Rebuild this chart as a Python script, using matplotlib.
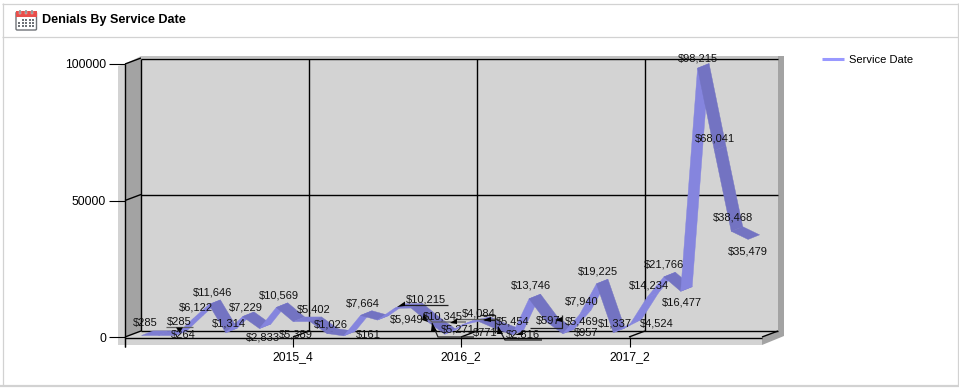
import matplotlib
matplotlib.use("Agg")
import matplotlib.pyplot as plt
from matplotlib.patches import Polygon, Rectangle, FancyBboxPatch
from matplotlib.lines import Line2D
from matplotlib.transforms import Affine2D

TITLE = "Denials By Service Date"
SERIES_NAME = "Service Date"
values = [285, 285, 264, 6122, 11646, 1314, 7229, 2833, 10569, 5389, 5402, 1026, 161,
          7664, 5949, 10215, 10345, 5271, 771, 4084, 5454, 2816, 597, 13746, 5469, 957,
          7940, 19225, 1337, 4524, 14234, 21766, 16477, 98215, 68041, 38468, 35479]
tick_index = [9, 19, 29]
tick_labels = ["2015_4", "2016_2", "2017_2"]
y_ticks = [0, 50000, 100000]

# label offsets from each point, in pixels (right, up)
label_offsets = [(4, 13), (21, 14), (9, 1), (4, 13), (4, 13), (4, 10), (4, 10), (4, -8), (3, 13),
                 (3, -12), (4.5, 13), (4, 10), (25, 2), (3, 13), (30, 1), (32, 10), (32, -8),
                 (30, -7), (41, 2), (18, 12), (35, 1), (28, -5), (36, 14), (2.5, 13.5), (36, 1),
                 (24, 1), (3, 14), (2, 13.5), (2, 10), (27, 1), (2, 13), (1, 13), (2, -10),
                 (1, 10), (1, 13), (2, 14), (0, -11)]

W, H = 959, 388
FONT = "Liberation Sans"
fig = plt.figure(figsize=(W / 100, H / 100), dpi=100, facecolor="white")
L, R, T, B = 125, 762, 64, 337
ax = fig.add_axes([L / W, 1 - B / H, (R - L) / W, (B - T) / H], facecolor="none")
X_STEP = 16.85
xmin = (L - 141) / X_STEP
ax.set_xlim(xmin, (R - 141) / X_STEP)
ax.set_ylim(0, 100000)
PY = 100000 / (B - T)          # data units per pixel, y

px = Affine2D().scale(1, -1).translate(0, H)   # reference-pixel coordinates


def poly(pts, fc, z=0.5, ec="none", lw=0):
    ax.add_patch(Polygon(pts, closed=True, fc=fc, ec=ec, lw=lw, transform=px, clip_on=False, zorder=z))


def line(xs, ys, c="black", lw=1.0, z=1.0):
    ax.add_line(Line2D(xs, ys, color=c, lw=lw, transform=px, clip_on=False, zorder=z,
                       solid_capstyle="butt", solid_joinstyle="miter"))


# ---- panel frame
BORDER = "#D2D2D2"
line([2.5, 2.5], [3, 385], BORDER, 0.9)
line([957.5, 957.5], [3, 385], BORDER, 0.9)
line([2, 958], [3.5, 3.5], BORDER, 0.9)
line([2, 958], [36.5, 36.5], BORDER, 0.9)
line([0, 959], [385.5, 385.5], BORDER, 1.6)

# ---- calendar icon
ax.add_patch(FancyBboxPatch((16, 12), 20.5, 18, boxstyle="round,pad=0,rounding_size=1.2", fc="white",
                            ec="#6E7277", lw=1.0, transform=px, clip_on=False, zorder=1))
ax.add_patch(Rectangle((15.5, 11), 21.5, 6, fc="#E8504C", ec="none", transform=px, clip_on=False, zorder=1.1))
for rx in (20, 26, 32):
    ax.add_patch(Rectangle((rx - 0.7, 9.5), 1.4, 4.5, fc="#8A8A8A", ec="white", lw=0.2, transform=px,
                           clip_on=False, zorder=1.2))
for ry in (20, 23, 26):
    for rx in (19, 22.5, 26, 29.5, 33):
        if ry == 20 and rx < 22:
            continue
        ax.add_patch(Rectangle((rx - 1, ry - 0.9), 2.2, 1.9, fc="#6E7277", ec="none", transform=px,
                               clip_on=False, zorder=1.2))
ax.text(42, 20.5, TITLE, transform=px, family=FONT, weight="bold", fontsize=9.1, va="center",
        ha="left", color="black", clip_on=False)

# ---- 3D box
WALL = "#D3D3D3"
DARK = "#A3A3A3"
poly([(118, 66), (125, 64), (125, 345), (118, 345)], WALL)
poly([(118, 337), (762, 337), (762, 345), (118, 345)], WALL)
poly([(125, 64), (141, 56), (783, 56), (783, 58), (141, 58)], "#C2C2C2", 0.52)
poly([(141, 58), (778, 58), (778, 331), (762, 337), (125, 337), (141, 331)], WALL, 0.55)
poly([(125, 64), (141, 58), (141, 331), (125, 337)], DARK, 0.6)
poly([(778, 56), (784, 56), (784, 336), (762, 345), (762, 337), (778, 331)], DARK, 0.6)

# grid on the back wall and floor
for gy in (58.5, 194.5, 331):
    line([141, 778], [gy, gy], z=0.8)
for gx in (141, 309, 477, 645):
    line([gx, gx], [58.5, 331], z=0.8)
for gx in (125, 293, 461, 629, 762):
    line([gx, gx + 16], [337, 331], z=0.8)
for gy in (64, 200.5):
    line([125, 141], [gy, gy - 6], z=0.8)
line([125, 125], [64, 347], z=0.9)
line([125, 762], [337.5, 337.5], z=3.0)

# ---- ribbon built from the series
xs = list(range(len(values)))
d1x, d1y, d2x, d2y = 0.5 / X_STEP, 0.7 * PY, 12 / X_STEP, 5.3 * PY
RISE, FALL, FLAT = "#8585DE", "#7373C2", "#7D7DD2"
for i in range(len(values) - 1):
    x0, x1, y0, y1 = xs[i], xs[i + 1], values[i], values[i + 1]
    col = RISE if y1 > y0 + 200 else FALL if y1 < y0 - 200 else FLAT
    ax.add_patch(Polygon([(x0 + d1x, y0 + d1y), (x1 + d1x, y1 + d1y), (x1 + d2x, y1 + d2y), (x0 + d2x, y0 + d2y)],
                         closed=True, fc=col, ec=col, lw=0.3, clip_on=False, zorder=1.5))

# ---- leader lines of the moved labels
LEAD = "#202020"
leaders = [
    ([166, 193], [327, 327], "#606060"),
    ([404, 448], [305, 305], LEAD),
    ([424, 432, 466], [314, 322, 322], "#606060"),
    ([432, 438, 474], [323, 337, 337], LEAD),
    ([455, 500], [319, 319], "#606060"),
    ([480, 495, 495, 484], [315, 315, 320, 320], LEAD),
    ([495, 495], [320, 333], LEAD),
    ([498, 505, 542], [327, 340, 340], LEAD),
    ([562, 562, 530], [315, 328, 328], LEAD),
    ([556, 562], [320, 320], LEAD),
]
for lx, ly, c in leaders:
    line(lx, ly, c, 0.9, 2.0)
heads = [
    [(176, 327.5), (183, 327.5), (179.5, 333)],
    [(397, 307), (405, 301.5), (405, 306)],
    [(424, 313), (428, 322), (422, 320)],
    [(432, 323), (437, 331), (431, 331)],
    [(450, 323), (457, 318.5), (457, 324)],
    [(483, 320), (491, 317), (491, 322)],
    [(498, 326), (503, 334), (497, 334)],
    [(515, 335), (523, 331), (523, 335)],
    [(555, 320), (562, 317), (562, 322)],
]
for h in heads:
    poly(h, "black", 2.1)

# ---- data labels
for i, v in enumerate(values):
    ox, oy = label_offsets[i]
    ax.annotate(f"${v:,}", xy=(xs[i], v), xytext=(ox * 0.72, oy * 0.72), textcoords="offset points",
                ha="center", va="center", family=FONT, fontsize=8.0, color="#111111",
                annotation_clip=False, zorder=4)

# ---- axes
for s in ("top", "right", "left", "bottom"):
    ax.spines[s].set_visible(False)
ax.set_yticks(y_ticks)
ax.set_yticklabels([str(t) for t in y_ticks], family=FONT, fontsize=8.8)
ax.set_xticks([xmin] + tick_index)
ax.set_xticklabels([""] + tick_labels, family=FONT, fontsize=8.8)
ax.tick_params(axis="y", length=11.5, width=0.8, pad=2.2, color="black")
ax.tick_params(axis="x", length=7.2, width=0.8, pad=2.6, color="black")

# ---- legend
handle = Line2D([], [], color="#9999FF", lw=2.2, solid_capstyle="butt")
leg = ax.legend([handle], [SERIES_NAME], loc="center left", bbox_to_anchor=(822, 60), bbox_transform=px,
                frameon=False, borderpad=0, borderaxespad=0, handlelength=2.0, handletextpad=0.45,
                prop={"family": FONT, "size": 8.0})

fig.savefig("out.png", dpi=100, facecolor="white")
